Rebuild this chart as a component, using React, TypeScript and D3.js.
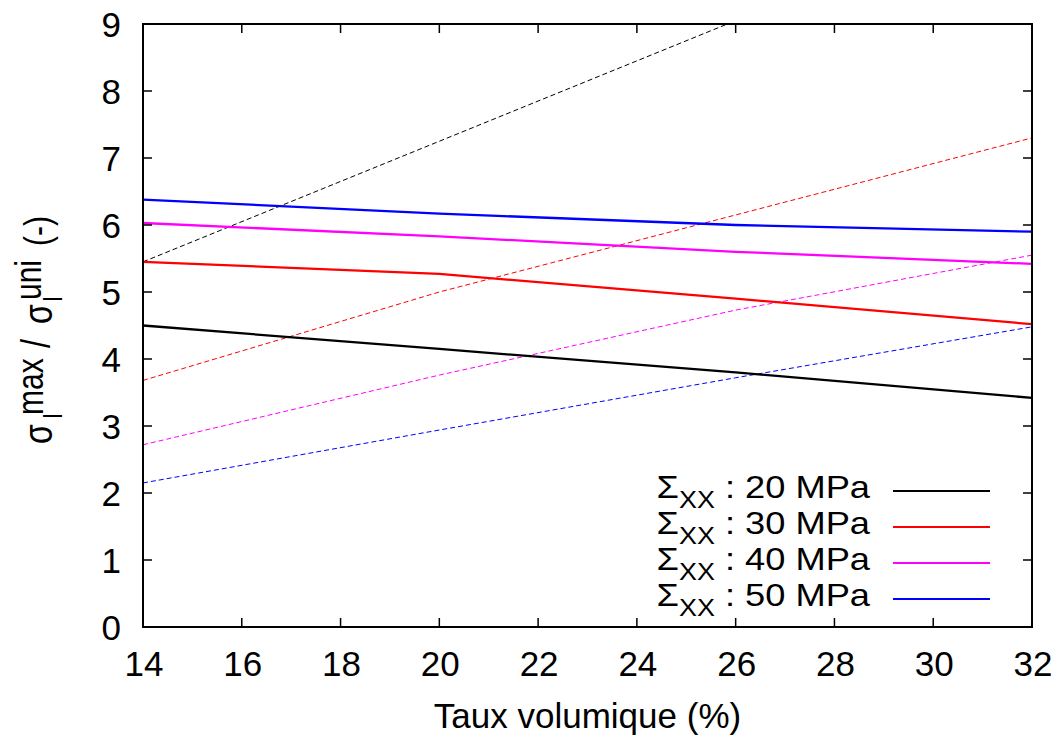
import React from "react";
import * as d3 from "d3";

const xs = [14, 20, 26, 32];
const seriesNames = ["20 MPa", "30 MPa", "40 MPa", "50 MPa"];
const colors = ["#000000", "#ff0000", "#ff00ff", "#0000ff"];
const solid20 = [4.5, 4.15, 3.8, 3.42];
const solid30 = [5.45, 5.27, 4.9, 4.52];
const solid40 = [6.03, 5.83, 5.6, 5.42];
const solid50 = [6.38, 6.17, 6.0, 5.9];
const dashed20 = [5.45, 7.25, 9.05, 10.85];
const dashed30 = [3.68, 5.0, 6.15, 7.3];
const dashed40 = [2.72, 3.76, 4.73, 5.55];
const dashed50 = [2.15, 2.94, 3.72, 4.48];
const xTicks = [14, 16, 18, 20, 22, 24, 26, 28, 30, 32];
const yTicks = [0, 1, 2, 3, 4, 5, 6, 7, 8, 9];

const W = 1061, H = 738;
const L = 143, R = 1032, T = 24, B = 627;

function Rot({ x, y, size, children }: { x: number; y: number; size: number; children: React.ReactNode }) {
  return (
    <text transform={`translate(${x},${y}) scale(1.25,1) rotate(-90)`} fontSize={size}>
      {children}
    </text>
  );
}

export default function App() {
  const x = d3.scaleLinear().domain([14, 32]).range([L, R]);
  const y = d3.scaleLinear().domain([0, 9]).range([B, T]);
  const line = d3.line<number>().x((_, i) => x(xs[i])).y((d) => y(d));
  const solids = [solid20, solid30, solid40, solid50];
  const dashes = [dashed20, dashed30, dashed40, dashed50];
  const font = "'Liberation Sans', Arial, sans-serif";
  const legendY = [491, 527, 563, 599];
  return (
    <svg width={W} height={H} style={{ position: "absolute", left: 0, top: 0, background: "#fff" }} fontFamily={font}>
      <defs>
        <clipPath id="clip">
          <rect x={L} y={T} width={R - L} height={B - T} />
        </clipPath>
      </defs>
      <rect x={0} y={0} width={W} height={H} fill="#fff" />
      <g clipPath="url(#clip)">
        {dashes.map((d, i) => (
          <path key={"d" + i} d={line(d) || ""} fill="none" stroke={colors[i]} strokeWidth={1} strokeDasharray="5,3" />
        ))}
        {solids.map((d, i) => (
          <path key={"s" + i} d={line(d) || ""} fill="none" stroke={colors[i]} strokeWidth={2.3} />
        ))}
      </g>
      {xTicks.map((t) => (
        <g key={"xt" + t}>
          <line x1={x(t)} x2={x(t)} y1={B} y2={B - 9} stroke="#000" strokeWidth={1.5} />
          <line x1={x(t)} x2={x(t)} y1={T} y2={T + 9} stroke="#000" strokeWidth={1.5} />
          <text x={x(t) + 1} y={676} fontSize={35} textAnchor="middle">{t}</text>
        </g>
      ))}
      {yTicks.map((t) => (
        <g key={"yt" + t}>
          <line x1={L} x2={L + 9} y1={y(t)} y2={y(t)} stroke="#000" strokeWidth={1.5} />
          <line x1={R} x2={R - 9} y1={y(t)} y2={y(t)} stroke="#000" strokeWidth={1.5} />
          <text x={121} y={y(t) + 12.5} fontSize={35} textAnchor="end">{t}</text>
        </g>
      ))}
      <rect x={L} y={T} width={R - L} height={B - T} fill="none" stroke="#000" strokeWidth={2} />
      <text x={(L + R) / 2} y={728} fontSize={35} textAnchor="middle">Taux volumique (%)</text>
      <Rot x={52} y={444} size={32}>σ</Rot>
      <Rot x={62} y={419} size={22}>I</Rot>
      <Rot x={43} y={415} size={30}>max</Rot>
      <Rot x={50} y={348} size={32}>/</Rot>
      <Rot x={52} y={324} size={32}>σ</Rot>
      <Rot x={62} y={302} size={22}>I</Rot>
      <Rot x={41} y={300} size={30}>uni</Rot>
      <Rot x={50} y={246} size={30}>(-)</Rot>
      {seriesNames.map((n, i) => (
        <g key={"lg" + i}>
          <text transform={`translate(870, ${legendY[i] + 7}) scale(1.17,1)`} fontSize={31} textAnchor="end">
            <tspan>Σ</tspan>
            <tspan fontSize={23} dy={10}>XX</tspan>
            <tspan dy={-10}> : {n}</tspan>
          </text>
          <line x1={893} x2={990} y1={legendY[i]} y2={legendY[i]} stroke={colors[i]} strokeWidth={2} />
        </g>
      ))}
    </svg>
  );
}
